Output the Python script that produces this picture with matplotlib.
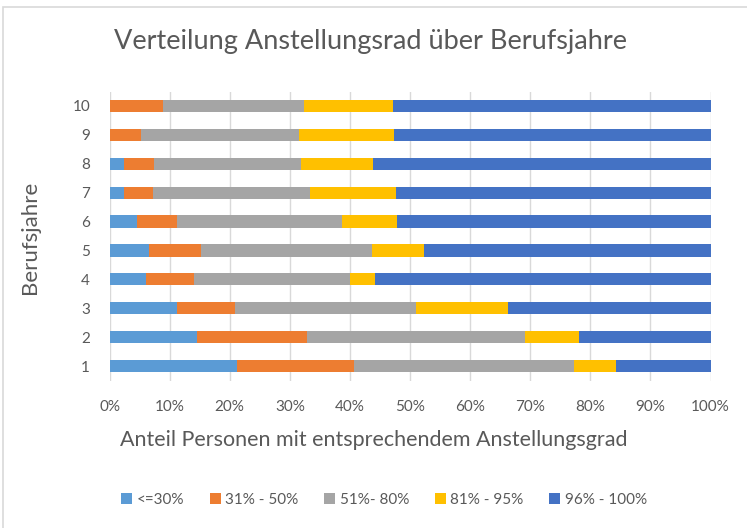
import matplotlib
matplotlib.use("Agg")
import matplotlib.pyplot as plt
from matplotlib.patches import Rectangle

plt.rcParams["font.family"] = ["Lato", "DejaVu Sans"]

# Berufsjahre 1..10 (bottom to top)
years = ["1", "2", "3", "4", "5", "6", "7", "8", "9", "10"]

# share of persons per employment level (%)
le30 = [21.2, 14.6, 11.3, 6.1, 6.6, 4.6, 2.4, 2.4, 0.0, 0.0]
p31_50 = [19.4, 18.2, 9.5, 8.0, 8.7, 6.7, 4.8, 5.0, 5.3, 8.9]
p51_80 = [36.7, 36.3, 30.2, 25.9, 28.3, 27.4, 26.2, 24.4, 26.3, 23.5]
p81_95 = [7.0, 9.1, 15.3, 4.1, 8.7, 9.2, 14.3, 12.1, 15.8, 14.8]
p96_100 = [15.7, 21.8, 33.7, 55.9, 47.7, 52.1, 52.3, 56.1, 52.6, 52.8]

series = [le30, p31_50, p51_80, p81_95, p96_100]
labels = ["<=30%", "31% - 50%", "51%- 80%", "81% - 95%", "96% - 100%"]
colors = ["#5B9BD5", "#ED7D31", "#A5A5A5", "#FFC000", "#4472C4"]
ticks = [0, 10, 20, 30, 40, 50, 60, 70, 80, 90, 100]

txt = "#595959"
W, H = 747, 528

fig = plt.figure(figsize=(W / 100, H / 100), dpi=100)

# chart frame (cropped on the right and bottom)
fig.patches.append(Rectangle((3 / W, -0.1), 1.2, 1.1 - 7 / H, transform=fig.transFigure,
                             fill=False, edgecolor="#d9d9d9", linewidth=1.2))

ax = fig.add_axes([109.5 / W, 1 - 380.5 / H, 601 / W, 289 / H])

left = [0.0] * len(years)
for vals, lab, col in zip(series, labels, colors):
    ax.barh(years, vals, left=left, height=0.42, color=col, label=lab, zorder=3)
    left = [a + b for a, b in zip(left, vals)]

ax.set_xlim(0, 100)
ax.set_ylim(-0.5, 9.5)
ax.set_xticks(ticks)
ax.set_xticklabels([f"{t}%" for t in ticks])
ax.xaxis.grid(True, color="#d9d9d9", linewidth=1, zorder=0)
ax.tick_params(axis="both", length=0, colors=txt, labelsize=11)
ax.tick_params(axis="x", pad=14)
ax.tick_params(axis="y", pad=14)
for s in ax.spines.values():
    s.set_visible(False)

fig.text(371 / W, 1 - 42 / H, "Verteilung Anstellungsrad über Berufsjahre",
         ha="center", va="center", fontsize=19.5, color=txt)
fig.text(374 / W, 1 - 440 / H, "Anteil Personen mit entsprechendem Anstellungsgrad",
         ha="center", va="center", fontsize=15.5, color=txt)
fig.text(30 / W, 1 - 237 / H, "Berufsjahre", rotation=90,
         ha="center", va="center", fontsize=16, color=txt)

fig.legend(loc="center", bbox_to_anchor=(384 / W, 1 - 500 / H), ncol=5, frameon=False,
           fontsize=11, labelcolor=txt, handlelength=0.7, handleheight=0.7,
           handletextpad=0.3, columnspacing=1.7)

fig.savefig("out.png", dpi=100)
